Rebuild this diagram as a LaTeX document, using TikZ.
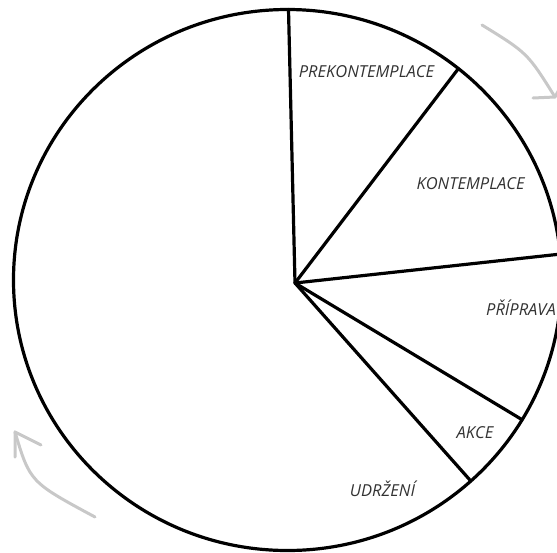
\documentclass[tikz,border=0pt]{standalone}
\usepackage{fontspec}
\setmainfont{Open Sans}
\definecolor{arrgray}{RGB}{200,200,200}
\definecolor{lblgray}{RGB}{50,50,50}
\begin{document}
\begin{tikzpicture}[x=1pt,y=-1pt,
  pie/.style={line width=3.2pt, draw=black, line cap=round},
  arr/.style={line width=3pt, draw=arrgray, line cap=round, line join=round},
  lbl/.style={font=\fontsize{16.5}{19}\selectfont\itshape, text=lblgray, anchor=base, inner sep=0pt}]
\useasboundingbox (0,0) rectangle (557,552);
\coordinate (O) at (295,283);
\coordinate (C) at (287.5,280);
\draw[pie] (C) ellipse [x radius=274pt, y radius=270.5pt];
\coordinate (p1) at (288.5,9.5);
\coordinate (p2) at (458.4,68.6);
\coordinate (p3) at (560.2,254.1);
\coordinate (p4) at (522.1,419.7);
\coordinate (p5) at (470.8,481);
\draw[pie] (O) -- (p1);
\draw[pie] (O) -- (p2);
\draw[pie] (O) -- (p3);
\draw[pie] (O) -- (p4);
\draw[pie] (O) -- (p5);
\node[lbl] (t1) at (366.5,77.4) {PREKONTEMPLACE};
\node[lbl] (t2) at (470.6,189.3) {KONTEMPLACE};
\node[lbl] (t3) at (521,315.4) {PŘÍPRAVA};
\node[lbl] (t4) at (475,438) {AKCE};
\node[lbl] (t5) at (382.5,496.6) {UDRŽENÍ};
% top-right arrow
\coordinate (a1s) at (482,25);
\coordinate (a1e) at (555,97);
\coordinate (a1b1) at (533,98);
\coordinate (a1b2) at (565.5,77.7);
\draw[arr] (a1s) .. controls (527.5,53) .. (a1e);
\draw[arr] (a1b1) -- (a1e) -- (a1b2);
% bottom-left arrow
\coordinate (a2s) at (95,517);
\coordinate (a2e) at (15,432);
\coordinate (a2b1) at (15,457);
\coordinate (a2b2) at (41,445);
\draw[arr] (a2s) .. controls (30,482) .. (a2e);
\draw[arr] (a2b1) -- (a2e) -- (a2b2);
\end{tikzpicture}
\end{document}
